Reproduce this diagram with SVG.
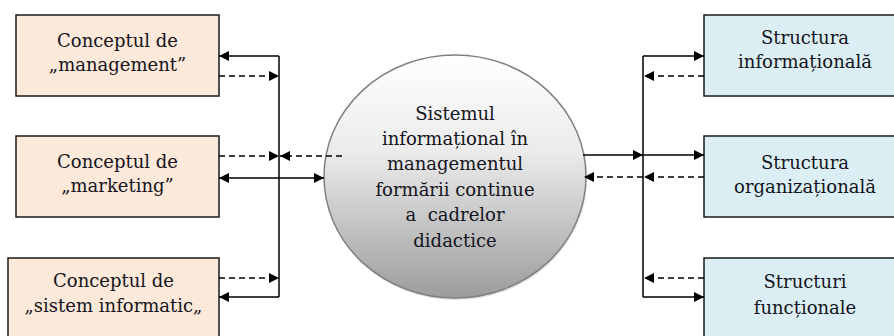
<svg xmlns="http://www.w3.org/2000/svg" width="894" height="336" viewBox="0 0 894 336">
<style>
  .lbox { fill: #fde9d9; stroke: #1a1a1a; stroke-width: 1.5; }
  .rbox { fill: #dbeef4; stroke: #1a1a1a; stroke-width: 1.5; }
  .t { font-family: "DejaVu Serif", "Liberation Serif", serif; font-size: 18px; fill: #141420; text-anchor: middle; white-space: pre; }
  .s { fill: none; stroke: #000; stroke-width: 1.5; }
  .d { fill: none; stroke: #000; stroke-width: 1.5; stroke-dasharray: 6 4; }
</style>
<defs>
  <marker id="ah" viewBox="0 0 10 10" refX="10" refY="5" markerWidth="11" markerHeight="10" markerUnits="userSpaceOnUse" orient="auto">
    <path d="M0,0 L10,5 L0,10 Z" fill="#000"/>
  </marker>
  <marker id="ahs" viewBox="0 0 10 10" refX="0" refY="5" markerWidth="11" markerHeight="10" markerUnits="userSpaceOnUse" orient="auto">
    <path d="M10,0 L0,5 L10,10 Z" fill="#000"/>
  </marker>
  <linearGradient id="cg" x1="0" y1="0" x2="0" y2="1">
    <stop offset="0" stop-color="#ffffff"/>
    <stop offset="0.4" stop-color="#ebebeb"/>
    <stop offset="1" stop-color="#9c9c9c"/>
  </linearGradient>
</defs>

<g id="n-management">
  <rect class="lbox" x="16" y="15" width="203" height="81"/>
  <text class="t" x="117.5" y="47">Conceptul de</text>
  <text class="t" x="117.5" y="71">„management”</text>
</g>
<g id="n-marketing">
  <rect class="lbox" x="16" y="136" width="203" height="81"/>
  <text class="t" x="117.5" y="168">Conceptul de</text>
  <text class="t" x="117.5" y="192">„marketing”</text>
</g>
<g id="n-sistem-informatic">
  <rect class="lbox" x="8" y="258" width="211" height="82"/>
  <text class="t" x="113.5" y="287">Conceptul de</text>
  <text class="t" x="113.5" y="312">„sistem informatic„</text>
</g>

<g id="n-structura-informationala">
  <rect class="rbox" x="704" y="15" width="202" height="81"/>
  <text class="t" x="805" y="44">Structura</text>
  <text class="t" x="805" y="68">informațională</text>
</g>
<g id="n-structura-organizationala">
  <rect class="rbox" x="704" y="136" width="202" height="81"/>
  <text class="t" x="805" y="169">Structura</text>
  <text class="t" x="805" y="193">organizațională</text>
</g>
<g id="n-structuri-functionale">
  <rect class="rbox" x="704" y="258" width="202" height="82"/>
  <text class="t" x="805" y="288">Structuri</text>
  <text class="t" x="805" y="314">funcționale</text>
</g>

<g id="n-sistemul-informational">
  <ellipse cx="456" cy="178.5" rx="131" ry="121.5" fill="#c8c8c8" opacity="0.5"/>
  <ellipse cx="455" cy="176.5" rx="131" ry="121.5" fill="url(#cg)" stroke="#808080" stroke-width="1.5"/>
  <text class="t" x="455" y="120">Sistemul</text>
  <text class="t" x="455" y="145">informațional în</text>
  <text class="t" x="455" y="170">managementul</text>
  <text class="t" x="455" y="196">formării continue</text>
  <text class="t" x="455" y="221">a  cadrelor</text>
  <text class="t" x="455" y="247">didactice</text>
</g>

<g id="connectors">
  <!-- left side -->
  <path class="s" d="M279,56 V297"/>
  <path class="s" d="M279,56 H219" marker-end="url(#ah)"/>
  <path class="d" d="M219,76 H279" marker-end="url(#ah)"/>
  <path class="d" d="M219,156 H279" marker-end="url(#ah)"/>
  <path class="d" d="M342,156 H280" marker-end="url(#ah)"/>
  <path class="s" d="M219,178 H324" marker-start="url(#ahs)" marker-end="url(#ah)"/>
  <path class="d" d="M219,278 H279" marker-end="url(#ah)"/>
  <path class="s" d="M279,297 H219" marker-end="url(#ah)"/>
  <!-- right side -->
  <path class="s" d="M643,56 V297"/>
  <path class="s" d="M643,56 H704" marker-end="url(#ah)"/>
  <path class="d" d="M704,76 H644" marker-end="url(#ah)"/>
  <path class="s" d="M583,155 H643" marker-end="url(#ah)"/>
  <path class="s" d="M643,155 H704" marker-end="url(#ah)"/>
  <path class="d" d="M704,177 H644" marker-end="url(#ah)"/>
  <path class="d" d="M643,177 H584" marker-end="url(#ah)"/>
  <path class="d" d="M704,278 H644" marker-end="url(#ah)"/>
  <path class="s" d="M643,297 H704" marker-end="url(#ah)"/>
</g>
</svg>
